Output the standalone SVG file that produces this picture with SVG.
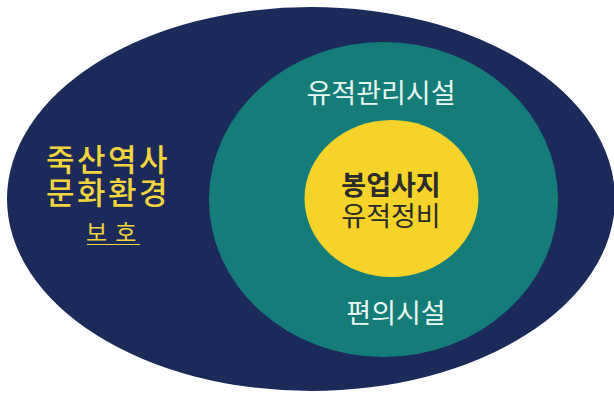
<svg xmlns="http://www.w3.org/2000/svg" width="614" height="393" viewBox="0 0 614 393">
  <style>
    .kr { font-family: "Noto Sans CJK KR", "Noto Sans", sans-serif; }
    .mid { text-anchor: middle; }
    .outer-t { fill: #f2d43c; font-size: 31px; font-weight: 500; letter-spacing: 2.5px; }
    .mid-t { fill: #e9f5f1; font-size: 27px; font-weight: 400; }
    .core-t { fill: #2b2b2b; font-size: 27px; }
  </style>
  <rect width="614" height="393" fill="#ffffff"/>
  <g id="outer">
    <ellipse cx="311" cy="199" rx="304" ry="192" fill="#1c2a5a"/>
    <text class="kr outer-t" x="46" y="171">죽산역사</text>
    <text class="kr outer-t" x="46" y="204">문화환경</text>
    <text class="kr" x="86" y="241" style="fill:#f2d43c;font-size:23px;letter-spacing:8px">보호</text>
    <line x1="87" y1="244.5" x2="140" y2="244.5" stroke="#f2d43c" stroke-width="1.2"/>
  </g>
  <g id="middle">
    <ellipse cx="383.5" cy="199.5" rx="174.5" ry="157.5" fill="#157d79"/>
    <text class="kr mid mid-t" x="381" y="103">유적관리시설</text>
    <text class="kr mid mid-t" x="396" y="323">편의시설</text>
  </g>
  <g id="core">
    <ellipse cx="391.5" cy="198.5" rx="87" ry="78.5" fill="#f5d328"/>
    <text class="kr mid core-t" x="391" y="195" font-weight="700">봉업사지</text>
    <text class="kr mid core-t" x="391" y="226" font-weight="400">유적정비</text>
  </g>
  <g id="connectors"/>
</svg>
